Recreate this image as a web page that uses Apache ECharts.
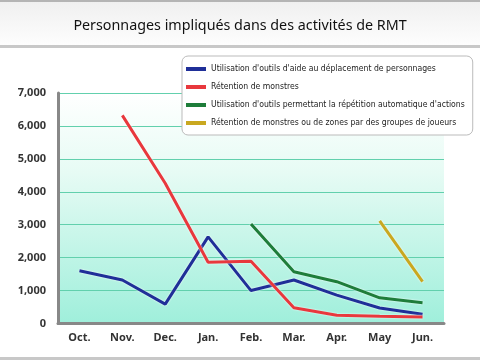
<!DOCTYPE html>
<html><head><meta charset="utf-8">
<script src="https://cdn.jsdelivr.net/npm/echarts@6/dist/echarts.min.js"></script>
<style>html,body{margin:0;padding:0;background:#fff}#c{width:480px;height:360px}</style>
</head><body><div id="c"></div>
<script>
var titleText = "Personnages impliqués dans des activités de RMT";
var categories = ["Oct.","Nov.","Dec.","Jan.","Feb.","Mar.","Apr.","May","Jun."];
var seriesNames = [
  "Utilisation d'outils d'aide au déplacement de personnages",
  "Rétention de monstres",
  "Utilisation d'outils permettant la répétition automatique d'actions",
  "Rétention de monstres ou de zones par des groupes de joueurs"
];
var blueValues = [1600, 1320, 590, 2630, 1000, 1320, 860, 470, 280];
var redValues = [null, 6320, 4260, 1860, 1890, 480, 250, 220, 200];
var greenValues = [null, null, null, null, 3020, 1570, 1270, 780, 630];
var yellowValues = [null, null, null, null, null, null, null, 3120, 1270];
var colors = ["#1f2f98", "#e8383d", "#1e7d3a", "#c9a820"];

var chart = echarts.init(document.getElementById('c'));
var allValues = [blueValues, redValues, greenValues, yellowValues];
var series = allValues.map(function(v, i){
  return {
    name: seriesNames[i], type: 'line', data: v, symbol: 'none', connectNulls: false,
    lineStyle: {color: colors[i], width: 3, shadowColor: 'rgba(255,255,255,1)', shadowBlur: 2},
    itemStyle: {color: colors[i]}, z: 3
  };
});
chart.setOption({
  animation: false,
  textStyle: {fontFamily: 'Noto Sans'},
  graphic: [
    {type: 'rect', shape: {x: 0, y: 0, width: 480, height: 47}, style: {fill: new echarts.graphic.LinearGradient(0,0,0,1,[{offset:0,color:'#efefef'},{offset:1,color:'#fefefe'}])}, z: -10},
    {type: 'rect', shape: {x: 0, y: 0, width: 480, height: 2}, style: {fill: '#b4b4b4'}, z: -5},
    {type: 'rect', shape: {x: 0, y: 45, width: 480, height: 3}, style: {fill: '#c8c8c8'}, z: -5},
    {type: 'rect', shape: {x: 0, y: 357, width: 480, height: 3}, style: {fill: '#c8c8c8'}, z: -5}
  ],
  title: {text: titleText, left: 'center', top: 14,
    textStyle: {fontFamily: 'Noto Sans', fontSize: 14.3, fontWeight: 'normal', color: '#111'}},
  legend: {
    data: seriesNames, orient: 'vertical', left: 182, top: 56,
    padding: [7, 8, 6, 4], itemGap: 6, itemWidth: 20, itemHeight: 4, icon: 'rect',
    backgroundColor: '#fff', borderColor: '#bbb', borderWidth: 1, borderRadius: 6,
    textStyle: {fontFamily: 'Liberation Sans Narrow, DejaVu Sans Condensed, sans-serif', fontSize: 8.6, lineHeight: 12, width: 248, color: '#222'},
    z: 10
  },
  grid: {left: 58, right: 36, top: 93, bottom: 36.5, show: true, borderWidth: 0,
    backgroundColor: new echarts.graphic.LinearGradient(0,0,0,1,[{offset:0,color:'#ffffff'},{offset:0.35,color:'#e6fbf4'},{offset:1,color:'#9fefdb'}])},
  xAxis: {type: 'category', data: categories, boundaryGap: true,
    axisLine: {lineStyle: {color: '#888', width: 3}},
    axisTick: {inside: true, length: 4, lineStyle: {color: '#888', width: 2}},
    axisLabel: {color: '#333', fontSize: 11, fontWeight: 'bold', margin: 9}},
  yAxis: {type: 'value', min: 0, max: 7000, interval: 1000,
    axisLine: {show: true, lineStyle: {color: '#888', width: 3}},
    axisTick: {show: false},
    axisLabel: {color: '#333', fontSize: 11, fontWeight: 'bold', margin: 12,
      formatter: function(v){ return v.toLocaleString('en-US'); }},
    splitLine: {lineStyle: {color: '#62d0ad', width: 1}}},
  series: series
});
</script></body></html>
